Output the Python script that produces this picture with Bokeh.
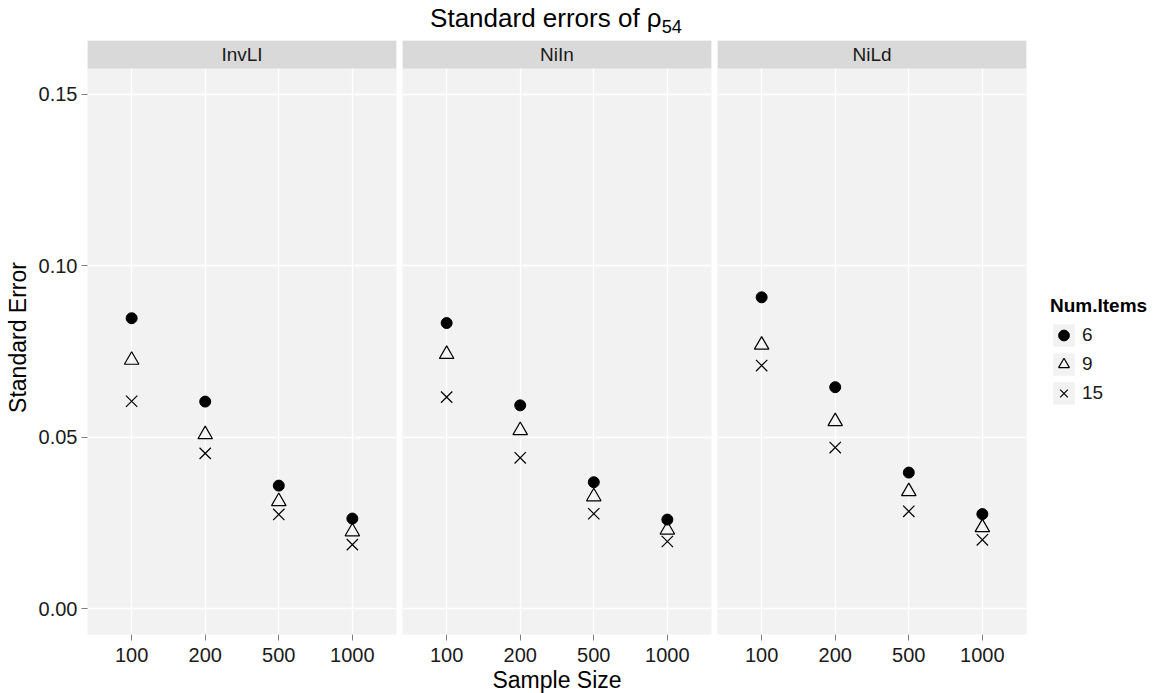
from bokeh.plotting import figure
from bokeh.layouts import row, column
from bokeh.models import (ColumnDataSource, FactorRange, Range1d, FixedTicker,
                          BoxAnnotation, Label, Legend, LegendItem, Div)
from bokeh.embed import file_html
from bokeh.resources import INLINE

# ---- data -------------------------------------------------------------
sample_sizes = ["100", "200", "500", "1000"]
designs = ["InvLI", "NiIn", "NiLd"]
num_items = ["6", "9", "15"]

invli_6 = [0.0847, 0.0604, 0.0359, 0.0263]
invli_9 = [0.0725, 0.0508, 0.0313, 0.0225]
invli_15 = [0.0605, 0.0453, 0.0275, 0.0187]

niin_6 = [0.0833, 0.0593, 0.0369, 0.0260]
niin_9 = [0.0742, 0.0520, 0.0327, 0.0230]
niin_15 = [0.0617, 0.0440, 0.0277, 0.0196]

nild_6 = [0.0908, 0.0646, 0.0397, 0.0276]
nild_9 = [0.0769, 0.0546, 0.0342, 0.0237]
nild_15 = [0.0709, 0.0470, 0.0284, 0.0201]

y_ticks = [0.0, 0.05, 0.10, 0.15]
y_tick_labels = {0.0: "0.00", 0.05: "0.05", 0.10: "0.10", 0.15: "0.15"}

# ---- styling ------------------------------------------------------------
FONT = "Liberation Sans"
PANEL_BG = "#F2F2F2"
STRIP_BG = "#D9D9D9"
TEXT = "#1A1A1A"
PANEL_W = 309
PANEL_H = 566
STRIP_H = 28
Y_LO, Y_HI = -0.0075, 0.1575
Y_TOP = Y_HI + STRIP_H * (Y_HI - Y_LO) / PANEL_H


def make_panel(name, s6, s9, s15, first=False, last=False, xlabel=None):
    p = figure(
        x_range=FactorRange(factors=sample_sizes, range_padding=0.1,
                            range_padding_units="absolute"),
        y_range=Range1d(Y_LO, Y_TOP),
        frame_width=PANEL_W, frame_height=PANEL_H + STRIP_H,
        min_border_left=87 if first else 3,
        min_border_right=135 if last else 3,
        min_border_top=0, min_border_bottom=59,
        title=None, output_backend="svg", toolbar_location=None,
        background_fill_color=PANEL_BG, border_fill_color="white",
        outline_line_color=None,
    )
    src = ColumnDataSource(dict(size=sample_sizes, v6=s6, v9=s9, v15=s15))

    # grid
    p.xgrid.grid_line_color = "white"
    p.xgrid.grid_line_width = 1.3
    p.ygrid.grid_line_color = "white"
    p.ygrid.grid_line_width = 1.3
    p.ygrid.ticker = FixedTicker(ticks=y_ticks)

    # axes
    p.xaxis.axis_line_color = None
    p.xaxis.major_tick_line_color = "#7F7F7F"
    p.xaxis.major_tick_out = 6
    p.xaxis.major_tick_in = 0
    p.xaxis.major_label_text_font = FONT
    p.xaxis.major_label_text_font_size = "20px"
    p.xaxis.major_label_text_color = TEXT
    p.xaxis.major_label_standoff = 7
    if xlabel:
        p.xaxis.axis_label = xlabel
        p.xaxis.axis_label_text_font = FONT
        p.xaxis.axis_label_text_font_size = "23px"
        p.xaxis.axis_label_text_font_style = "normal"
        p.xaxis.axis_label_text_color = "black"
        p.xaxis.axis_label_standoff = 2

    if first:
        p.yaxis.ticker = FixedTicker(ticks=y_ticks)
        p.yaxis.major_label_overrides = y_tick_labels
        p.yaxis.axis_line_color = None
        p.yaxis.major_tick_line_color = "#7F7F7F"
        p.yaxis.major_tick_out = 6
        p.yaxis.major_tick_in = 0
        p.yaxis.minor_tick_line_color = None
        p.yaxis.major_label_text_font = FONT
        p.yaxis.major_label_text_font_size = "20px"
        p.yaxis.major_label_text_color = TEXT
        p.yaxis.major_label_standoff = 4
        p.yaxis.axis_label = "Standard Error"
        p.yaxis.axis_label_text_font = FONT
        p.yaxis.axis_label_text_font_size = "23px"
        p.yaxis.axis_label_text_font_style = "normal"
        p.yaxis.axis_label_text_color = "black"
        p.yaxis.axis_label_standoff = 5
    else:
        p.yaxis.visible = False

    # facet strip
    p.add_layout(BoxAnnotation(bottom=Y_HI, fill_color=STRIP_BG, fill_alpha=1.0,
                               line_color=None))
    p.add_layout(Label(x=2.0, y=(Y_HI + Y_TOP) / 2, text=name, text_align="center",
                       text_baseline="middle", text_font=FONT,
                       text_font_size="19px", text_color=TEXT))

    r6 = p.scatter("size", "v6", source=src, marker="circle", size=11,
                   fill_color="black", line_color="black")
    r9 = p.scatter("size", "v9", source=src, marker="triangle", size=14.5,
                   fill_color=None, line_color="black", line_width=1.2)
    r15 = p.scatter("size", "v15", source=src, marker="x", size=16,
                    line_color="black", line_width=1.2)
    return p, (r6, r9, r15)


p1, _ = make_panel(designs[0], invli_6, invli_9, invli_15, first=True)
p2, _ = make_panel(designs[1], niin_6, niin_9, niin_15, xlabel="Sample Size")
p3, (q6, q9, q15) = make_panel(designs[2], nild_6, nild_9, nild_15, last=True)

# grey key background for the legend entries (zero-area quad, legend only)
key_bg = p3.quad(left=[0], right=[0], top=[0], bottom=[0],
                 fill_color=PANEL_BG, line_color=None)

legend = Legend(
    items=[LegendItem(label=lab, renderers=[key_bg, r])
           for lab, r in zip(num_items, (q6, q9, q15))],
    location=(24, 227),
    title="Num.Items", title_text_font=FONT, title_text_font_size="19px",
    title_text_font_style="bold", title_text_color="black", title_standoff=4,
    label_text_font=FONT, label_text_font_size="19px", label_text_color=TEXT,
    glyph_width=27, glyph_height=28, label_height=28, label_standoff=5,
    spacing=1, padding=0, margin=0, border_line_color=None,
    background_fill_alpha=0.0,
)
p3.add_layout(legend, "right")

title = Div(
    text='Standard errors of &rho;<sub style="font-size:70%">54</sub>',
    width=1112, height=40, margin=(0, 0, 0, 0),
    styles={"font-family": "'Liberation Sans', Arial, sans-serif",
            "font-size": "26px", "text-align": "center", "color": "black",
            "line-height": "36px"},
)

layout = column(title, row(p1, p2, p3, spacing=0), spacing=0)

open("out.html", "w").write(file_html(layout, INLINE))
